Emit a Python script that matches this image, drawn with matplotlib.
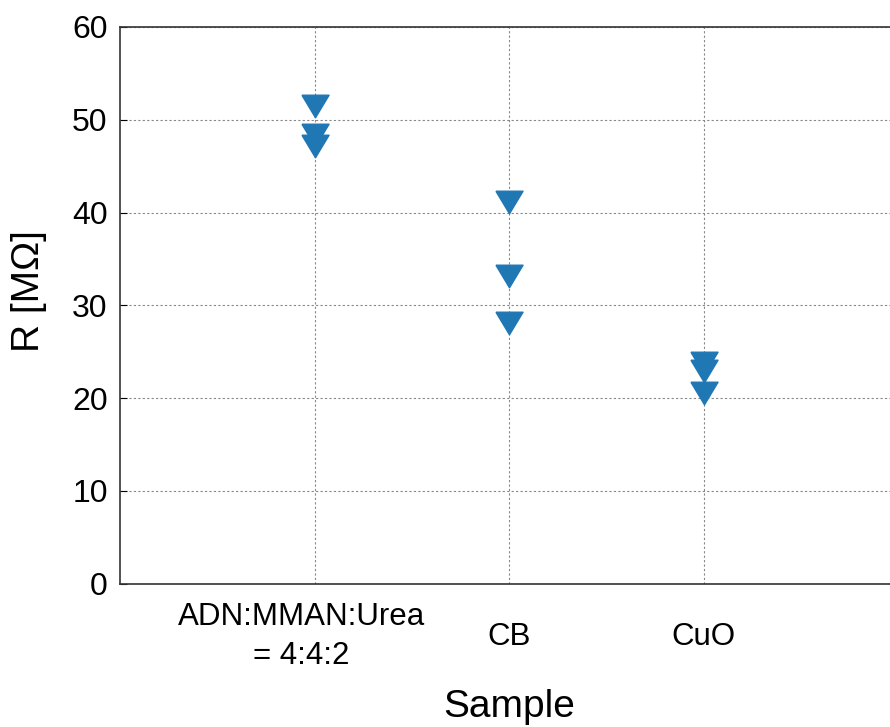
import numpy as np
import matplotlib.pyplot as plt
import matplotlib.transforms as mtransforms
from matplotlib.ticker import MultipleLocator

plt.rcParams['font.family'] = ['Liberation Sans', 'DejaVu Sans']

# data
samples = ['ADN:MMAN:Urea\n= 4:4:2', 'CB', 'CuO']
r_adn = [51.5, 48.4, 47.2]
r_cb = [41.1, 33.2, 28.1]
r_cuo = [23.8, 22.9, 20.6]

# flattened triangle, a bit wider than tall
tri = [(-1.2, 1), (1.2, 1), (0, -1), (-1.2, 1)]

fig = plt.figure(figsize=(8.9, 7.27), dpi=100)
ax = fig.add_axes([0.135, 0.197, 0.874, 0.766])

for i, vals in enumerate([r_adn, r_cb, r_cuo]):
    ax.plot([i + 1] * len(vals), vals, linestyle='none', marker=tri,
            markersize=19.5, color='#1f77b4', zorder=3)

ax.set_xlim(0, 4)
ax.set_ylim(0, 60)
ax.set_xticks([1, 2, 3])
ax.set_xticklabels(samples)
ax.yaxis.set_major_locator(MultipleLocator(10))

ax.grid(True, linestyle=(0, (2, 2)), color='#888888', linewidth=0.8)
for s in ax.spines.values():
    s.set_color('#333333')
    s.set_linewidth(1.2)

ax.tick_params(axis='y', direction='in', labelsize=23, length=5, pad=9)
ax.tick_params(axis='x', direction='in', labelsize=22.5, length=0, pad=38)
for lab in ax.get_xticklabels():
    lab.set_va('center')
    lab.set_linespacing(1.4)
# first label sits a little left of its tick in the original
first = ax.get_xticklabels()[0]
first.set_transform(first.get_transform() +
                    mtransforms.ScaledTranslation(-13 / 100, 0, fig.dpi_scale_trans))

ax.set_xlabel('Sample', fontsize=28, labelpad=13)
ax.set_ylabel('R [MΩ]', fontsize=28, labelpad=18, y=0.525)

fig.savefig('out.png', dpi=100)
